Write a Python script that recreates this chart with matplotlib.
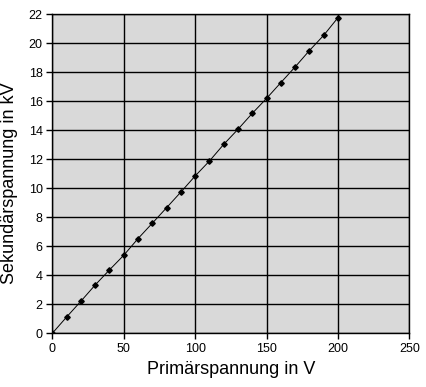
import matplotlib
matplotlib.use('Agg')
import matplotlib.pyplot as plt

# Messwerte
primaer = [0, 10, 20, 30, 40, 50, 60, 70, 80, 90, 100,
           110, 120, 130, 140, 150, 160, 170, 180, 190, 200]
sekundaer = [0.0, 1.12, 2.21, 3.33, 4.37, 5.38, 6.53, 7.59, 8.66, 9.74, 10.85,
             11.88, 13.03, 14.07, 15.17, 16.2, 17.29, 18.37, 19.5, 20.55, 21.77]

xticks = [0, 50, 100, 150, 200, 250]
yticks = list(range(0, 23, 2))

plt.rcParams['font.family'] = ['Liberation Sans', 'DejaVu Sans']

fig = plt.figure(figsize=(4.26, 3.87), dpi=100)
ax = fig.add_axes([0.1228, 0.1388, 0.961 - 0.1228, 0.963 - 0.1388])
ax.set_facecolor('#d9d9d9')

ax.plot(primaer, sekundaer, color='black', linewidth=0.7,
        marker='D', markersize=2.8, markerfacecolor='black', markeredgecolor='black')

ax.set_xlim(0, 250)
ax.set_ylim(0, 22)
ax.set_xticks(xticks)
ax.set_yticks(yticks)
ax.grid(True, color='black', linewidth=1)
ax.set_axisbelow(True)
for s in ax.spines.values():
    s.set_color('black')
    s.set_linewidth(1)
ax.tick_params(direction='out', length=4, width=1, labelsize=9, pad=3)

ax.set_xlabel('Primärspannung in V', fontsize=13, labelpad=4)
ax.set_ylabel('Sekundärspannung in kV', fontsize=13)
ax.yaxis.set_label_coords(-0.095, 0.47)

fig.savefig('out.png', dpi=100, facecolor='white')
